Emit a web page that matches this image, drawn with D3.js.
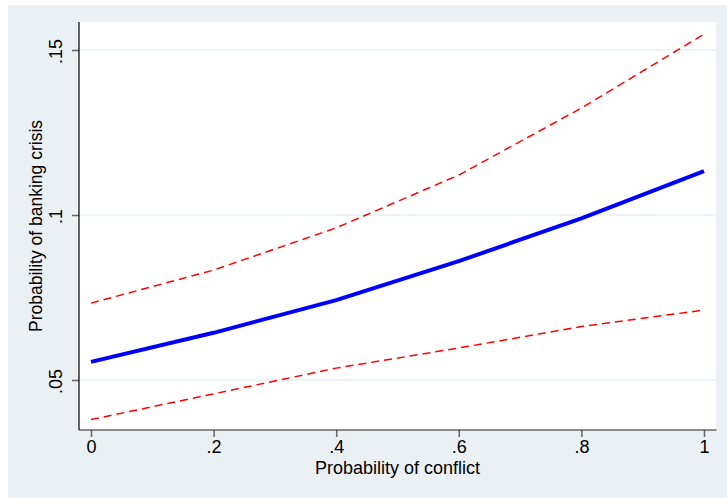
<!DOCTYPE html>
<html>
<head>
<meta charset="utf-8">
<script src="https://cdn.jsdelivr.net/npm/d3@7"></script>
<style>
  html, body { margin: 0; padding: 0; background: #ffffff; }
  svg { display: block; }
  text { font-family: "Liberation Sans", Arial, sans-serif; fill: #000; }
</style>
</head>
<body>
<svg id="chart" width="727" height="498"></svg>
<script>
// ---- data ----
const conflictProb = [0, 0.2, 0.4, 0.6, 0.8, 1];
const crisisProb   = [0.0555, 0.0643, 0.0742, 0.0860, 0.0990, 0.1133];
const upperCI      = [0.0733, 0.0833, 0.0961, 0.1121, 0.1324, 0.1548];
const lowerCI      = [0.0380, 0.0458, 0.0536, 0.0597, 0.0662, 0.0712];
const xTicks       = [0, 0.2, 0.4, 0.6, 0.8, 1];
const xTickLabels  = ["0", ".2", ".4", ".6", ".8", "1"];
const yTicks       = [0.05, 0.1, 0.15];
const yTickLabels  = [".05", ".1", ".15"];
const xTitle = "Probability of conflict";
const yTitle = "Probability of banking crisis";

// ---- layout ----
const W = 727, H = 498;
const plot = { left: 79, top: 22, right: 716, bottom: 430 };
const svg = d3.select("#chart");

svg.append("rect").attr("x", 8).attr("y", 5).attr("width", W - 8).attr("height", H - 5)
  .attr("fill", "#eaf0f3");
svg.append("rect").attr("x", plot.left).attr("y", plot.top)
  .attr("width", plot.right - plot.left).attr("height", plot.bottom - plot.top)
  .attr("fill", "#ffffff");

const x = d3.scaleLinear().domain([0, 1]).range([91, 704]);
const y = d3.scaleLinear().domain([0.05, 0.15]).range([380, 50]);

// gridlines
svg.append("g").selectAll("line").data(yTicks).join("line")
  .attr("x1", plot.left).attr("x2", plot.right)
  .attr("y1", d => y(d)).attr("y2", d => y(d))
  .attr("stroke", "#eaf0f3").attr("stroke-width", 1.5);

// lines
const rows = conflictProb.map((c, i) => ({ c, m: crisisProb[i], u: upperCI[i], l: lowerCI[i] }));
const mk = key => d3.line().x(d => x(d.c)).y(d => y(d[key]));

svg.append("path").datum(rows).attr("d", mk("u"))
  .attr("fill", "none").attr("stroke", "#ff0000").attr("stroke-width", 1.5)
  .attr("stroke-dasharray", "8,5");
svg.append("path").datum(rows).attr("d", mk("l"))
  .attr("fill", "none").attr("stroke", "#ff0000").attr("stroke-width", 1.5)
  .attr("stroke-dasharray", "8,5");
svg.append("path").datum(rows).attr("d", mk("m"))
  .attr("fill", "none").attr("stroke", "#0000ff").attr("stroke-width", 4)
  .attr("stroke-linejoin", "round");

// x axis
const xAxis = d3.axisBottom(x).tickValues(xTicks)
  .tickFormat((d, i) => xTickLabels[i]).tickSize(7).tickPadding(3);
const gx = svg.append("g").attr("transform", `translate(0,${plot.bottom})`).call(xAxis);
gx.select(".domain").remove();
gx.append("line").attr("x1", plot.left).attr("x2", plot.right + 0.5).attr("y1", 0).attr("y2", 0)
  .attr("stroke", "#222").attr("stroke-width", 1.2);
gx.selectAll(".tick line").attr("stroke", "#666").attr("stroke-width", 1.5);
gx.selectAll(".tick text").attr("font-size", 18).attr("fill", "#000")
  .style("font-family", "'Liberation Sans', Arial, sans-serif");

// y axis
const yAxis = d3.axisLeft(y).tickValues(yTicks)
  .tickFormat((d, i) => yTickLabels[i]).tickSize(7).tickPadding(0);
const gy = svg.append("g").attr("transform", `translate(${plot.left},0)`).call(yAxis);
gy.select(".domain").remove();
gy.append("line").attr("x1", 0).attr("x2", 0).attr("y1", plot.top).attr("y2", plot.bottom)
  .attr("stroke", "#000").attr("stroke-width", 1.2);
gy.selectAll(".tick line").attr("stroke", "#666").attr("stroke-width", 1.5);
gy.selectAll(".tick text")
  .attr("x", null).attr("dy", null)
  .attr("text-anchor", "middle")
  .attr("transform", "translate(-17,1) rotate(-90)")
  .attr("font-size", 18).attr("fill", "#000")
  .style("font-family", "'Liberation Sans', Arial, sans-serif");

// titles
svg.append("text").attr("x", (plot.left + plot.right) / 2).attr("y", 474)
  .attr("text-anchor", "middle").attr("font-size", 18).text(xTitle);
svg.append("text")
  .attr("transform", `translate(41.5,${(plot.top + plot.bottom) / 2}) rotate(-90)`)
  .attr("text-anchor", "middle").attr("font-size", 17.5).text(yTitle);
</script>
</body>
</html>
